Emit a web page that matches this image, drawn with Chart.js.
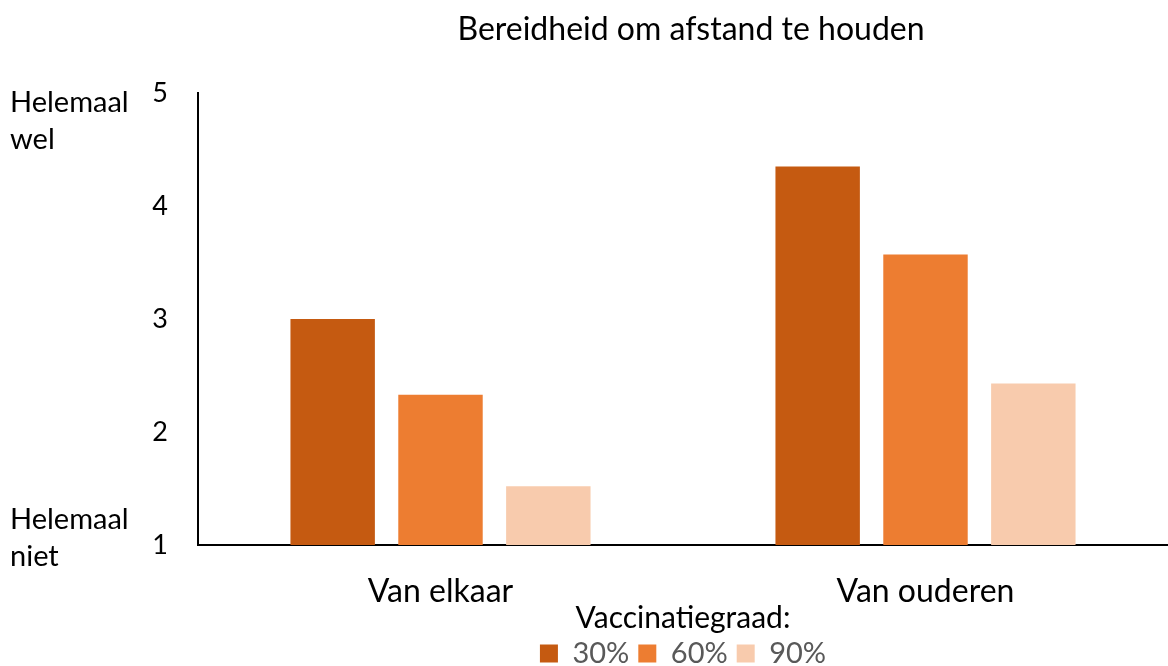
<!DOCTYPE html>
<html>
<head>
<meta charset="utf-8">
<script src="https://cdn.jsdelivr.net/npm/chart.js@4/dist/chart.umd.min.js"></script>
<style>
  html, body { margin: 0; padding: 0; background: #fff; }
  #wrap { width: 1168px; height: 666px; }
</style>
</head>
<body>
<div id="wrap"><canvas id="chart"></canvas></div>
<script>
const categories = ['Van elkaar', 'Van ouderen'];
const seriesLabels = ['30%', '60%', '90%'];
const values30 = [3.0, 4.35];
const values60 = [2.33, 3.57];
const values90 = [1.52, 2.43];
const yTicks = [1, 2, 3, 4, 5];
const colors = ['#C55A11', '#ED7D31', '#F8CBAD'];

const FONT = 'Lato, "Open Sans", sans-serif';

// title and the "Helemaal wel / niet" labels next to the y axis
const extraText = {
  id: 'extraText',
  afterDraw(chart) {
    const ctx = chart.ctx;
    const y = chart.scales.y;
    ctx.save();
    ctx.fillStyle = '#000';
    ctx.textBaseline = 'middle';

    ctx.font = '32px ' + FONT;
    ctx.textAlign = 'center';
    ctx.fillText('Bereidheid om afstand te houden', 691, 30);

    ctx.font = '29px ' + FONT;
    ctx.textAlign = 'left';
    const top = y.getPixelForValue(5);
    const bottom = y.getPixelForValue(1);
    ctx.fillText('Helemaal', 10, top + 10);
    ctx.fillText('wel', 10, top + 47);
    ctx.fillText('Helemaal', 10, bottom - 25);
    ctx.fillText('niet', 10, bottom + 12);
    ctx.restore();
  },
};

const dataChart = {
  labels: categories,
  datasets: [
    { label: seriesLabels[0], data: values30, backgroundColor: colors[0] },
    { label: seriesLabels[1], data: values60, backgroundColor: colors[1] },
    { label: seriesLabels[2], data: values90, backgroundColor: colors[2] },
  ],
};

const config = {
  type: 'bar',
  data: dataChart,
  options: {
    responsive: true,
    maintainAspectRatio: false,
    animation: false,
    categoryPercentage: 0.667,
    barPercentage: 0.783,
    layout: {
      padding: { left: 0, right: -6, top: 93, bottom: -12 },
    },
    scales: {
      x: {
        afterFit(scale) {
          scale.height = 57;
        },
        grid: { display: false },
        border: { display: true, color: '#000', width: 2 },
        ticks: { color: '#000', font: { family: FONT, size: 32 }, padding: 19 },
      },
      y: {
        min: 1,
        max: 5,
        afterFit(scale) {
          scale.width = 198;
        },
        afterBuildTicks(scale) {
          scale.ticks = yTicks.map((v) => ({ value: v }));
        },
        grid: { display: false },
        border: { display: true, color: '#000', width: 2 },
        ticks: { color: '#000', font: { family: FONT, size: 27 }, padding: 22 },
      },
    },
    plugins: {
      title: { display: false },
      tooltip: { enabled: false },
      legend: {
        display: true,
        position: 'bottom',
        fullSize: false,
        title: {
          display: true,
          text: 'Vaccinatiegraad:',
          color: '#000',
          font: { family: FONT, size: 30, lineHeight: 1 },
          padding: { top: 1, bottom: -3 },
        },
        labels: {
          color: '#595959',
          font: { family: FONT, size: 29 },
          boxWidth: 18,
          boxHeight: 18,
          padding: 9,
        },
      },
    },
  },
  plugins: [extraText],
};

new Chart(document.getElementById('chart'), config);
</script>
</body>
</html>
